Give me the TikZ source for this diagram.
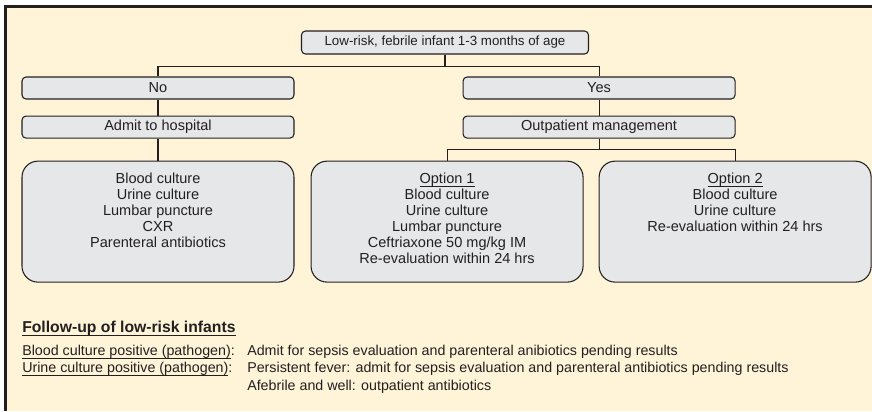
\documentclass[tikz,border=0pt]{standalone}
\usepackage{fontspec}
\setmainfont{Liberation Sans}
\usepackage{xcolor}
\usetikzlibrary{positioning}

\definecolor{paper}{RGB}{255,244,216}
\definecolor{boxgray}{RGB}{230,231,233}
\definecolor{ink}{RGB}{35,31,32}

% text of the large boxes starts at the top
\newcommand{\boxlines}[1]{\parbox[c][90.75pt][t]{200pt}{\centering\vspace*{8.6pt}#1}}
% underline set just below the descenders
\newsavebox{\ulbox}
\newcommand{\undertext}[1]{\leavevmode\sbox{\ulbox}{#1}\rlap{\rule[-2.5pt]{\wd\ulbox}{0.6pt}}\usebox{\ulbox}}

\tikzset{
	smallbox/.style={
		draw=ink,
		fill=boxgray,
		line width=0.8pt,
		rounded corners=3pt,
		minimum width=204pt,
		minimum height=16.5pt,
		inner sep=0pt,
		text=ink,
		font=\fontsize{10.9}{12}\selectfont
	},
	bigbox/.style={
		smallbox,
		rounded corners=12pt,
		minimum height=90.75pt
	},
	link/.style={draw=ink, line width=0.8pt}
}

\begin{document}
\begin{tikzpicture}

\useasboundingbox (0,0) rectangle (654pt,-308.25pt);

% frame
\fill[paper] (4.125pt,-4.875pt) rectangle (654pt,-308.25pt);
\draw[ink, line width=2.25pt] (4.125pt,-308.25pt) -- (4.125pt,-4.875pt) -- (654pt,-4.875pt);

\node[
	smallbox,
	minimum width=215.25pt,
	minimum height=17.25pt,
	font=\fontsize{10}{12}\selectfont
] (infant) at (333.75pt,-31.875pt) {Low-risk, febrile infant 1-3 months of age};

\node[
	smallbox
] (no) at (118.5pt,-66pt) {No};

\node[
	smallbox,
	right=126pt of no
] (yes) {Yes};

\node[
	smallbox,
	below=12pt of no
] (admit) {Admit to hospital};

\node[
	smallbox,
	below=12pt of yes
] (outpatient) {Outpatient management};

\node[
	bigbox,
	below=16.5pt of admit
] (inpatientTests) {\boxlines{Blood culture\\Urine culture\\Lumbar puncture\\CXR\\Parenteral antibiotics}};

\node[
	bigbox,
	right=12pt of inpatientTests
] (optionOne) {\boxlines{\undertext{Option 1}\\Blood culture\\Urine culture\\Lumbar puncture\\Ceftriaxone 50 mg/kg IM\\Re-evaluation within 24 hrs}};

\node[
	bigbox,
	right=11.25pt of optionOne
] (optionTwo) {\boxlines{\undertext{Option 2}\\Blood culture\\Urine culture\\Re-evaluation within 24 hrs}};

% ---

\coordinate[below=9pt of infant.south] (infantSplit);
\coordinate[below=8.25pt of outpatient.south] (outpatientSplit);

\draw[link] (infant.south) -- (infantSplit) -| (no.north);
\draw[link] (infantSplit) -| (yes.north);
\draw[link] (no.south) -- (admit.north);
\draw[link] (yes.south) -- (outpatient.north);
\draw[link] (admit.south) -- (inpatientTests.north);
\draw[link] (outpatient.south) -- (outpatientSplit) -| (optionOne.north);
\draw[link] (outpatientSplit) -| (optionTwo.north);

% --- follow-up notes

\node[
	anchor=base west,
	inner sep=0pt,
	text=ink,
	font=\bfseries\fontsize{11.8}{14}\selectfont
] (followup) at (16.5pt,-249.4pt) {\undertext{Follow-up of low-risk infants}};

\node[
	anchor=north west,
	inner sep=0pt,
	text=ink,
	font=\fontsize{10.7}{13.1}\selectfont
] (notes) at (16.5pt,-257.1pt) {%
\begin{tabular}{@{}p{168.75pt}@{}l@{}}
\undertext{Blood culture positive (pathogen)}: & Admit for sepsis evaluation and parenteral anibiotics pending results\\
\undertext{Urine culture positive (pathogen)}: & Persistent fever: admit for sepsis evaluation and parenteral antibiotics pending results\\
 & Afebrile and well: outpatient antibiotics
\end{tabular}};

\end{tikzpicture}
\end{document}
